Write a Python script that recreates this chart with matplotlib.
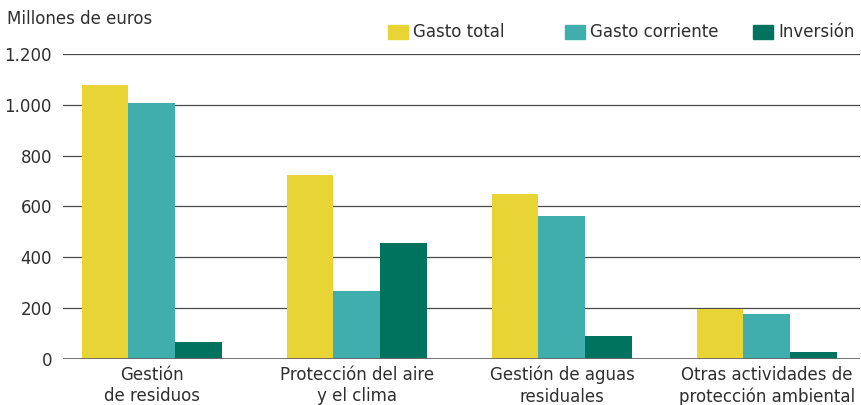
import matplotlib.pyplot as plt
import numpy as np
from matplotlib.patches import Rectangle

# data
categorias = ["Gestión\nde residuos", "Protección del aire\ny el clima",
              "Gestión de aguas\nresiduales", "Otras actividades de\nprotección ambiental"]
series = ["Gasto total", "Gasto corriente", "Inversión"]
gasto_total = [1078, 723, 651, 197]
gasto_corriente = [1006, 266, 563, 176]
inversion = [65, 457, 90, 29]
colores = ["#E8D435", "#40AEAD", "#00735E"]
yticks = [0, 200, 400, 600, 800, 1000, 1200]
ytick_labels = ["0", "200", "400", "600", "800", "1.000", "1.200"]

txt = "#2e2e2e"
plt.rcParams["font.family"] = "DejaVu Sans"

fig = plt.figure(figsize=(8.62, 4.05), dpi=100)
ax = fig.add_axes([63 / 862, 46 / 405, 797 / 862, 305 / 405])

x = np.arange(len(categorias))
w = 0.229
valores = [gasto_total, gasto_corriente, inversion]
for i, (vals, col) in enumerate(zip(valores, colores)):
    ax.bar(x + (i - 1) * w, vals, width=w, color=col, zorder=2)

ax.set_ylim(0, 1200)
ax.set_xlim(-0.434, 3.454)
ax.set_yticks(yticks)
ax.set_yticklabels(ytick_labels)
ax.set_xticks(x)
ax.set_xticklabels(categorias, linespacing=1.25)
ax.tick_params(axis="both", length=0, labelsize=12, labelcolor=txt)
ax.tick_params(axis="y", pad=8)
ax.tick_params(axis="x", pad=5)

for yv in yticks[1:]:
    ax.axhline(yv, color="#4a4a4a", lw=0.9, zorder=1)
ax.axhline(0, color="#666666", lw=2, zorder=3)

for s in ax.spines.values():
    s.set_visible(False)

fig.text(7 / 862, 1 - 19 / 405, "Millones de euros", fontsize=12, color=txt,
         va="center", ha="left")

# legend drawn by hand to keep its uneven spacing
leg_x = [388, 565, 753]
for lx, lab, col in zip(leg_x, series, colores):
    fig.patches.append(Rectangle((lx / 862, 1 - 39 / 405), 20 / 862, 14 / 405,
                                 transform=fig.transFigure, color=col))
    fig.text((lx + 25) / 862, 1 - 32 / 405, lab, fontsize=12, color=txt,
             va="center", ha="left")

fig.savefig("out.png", dpi=100)
